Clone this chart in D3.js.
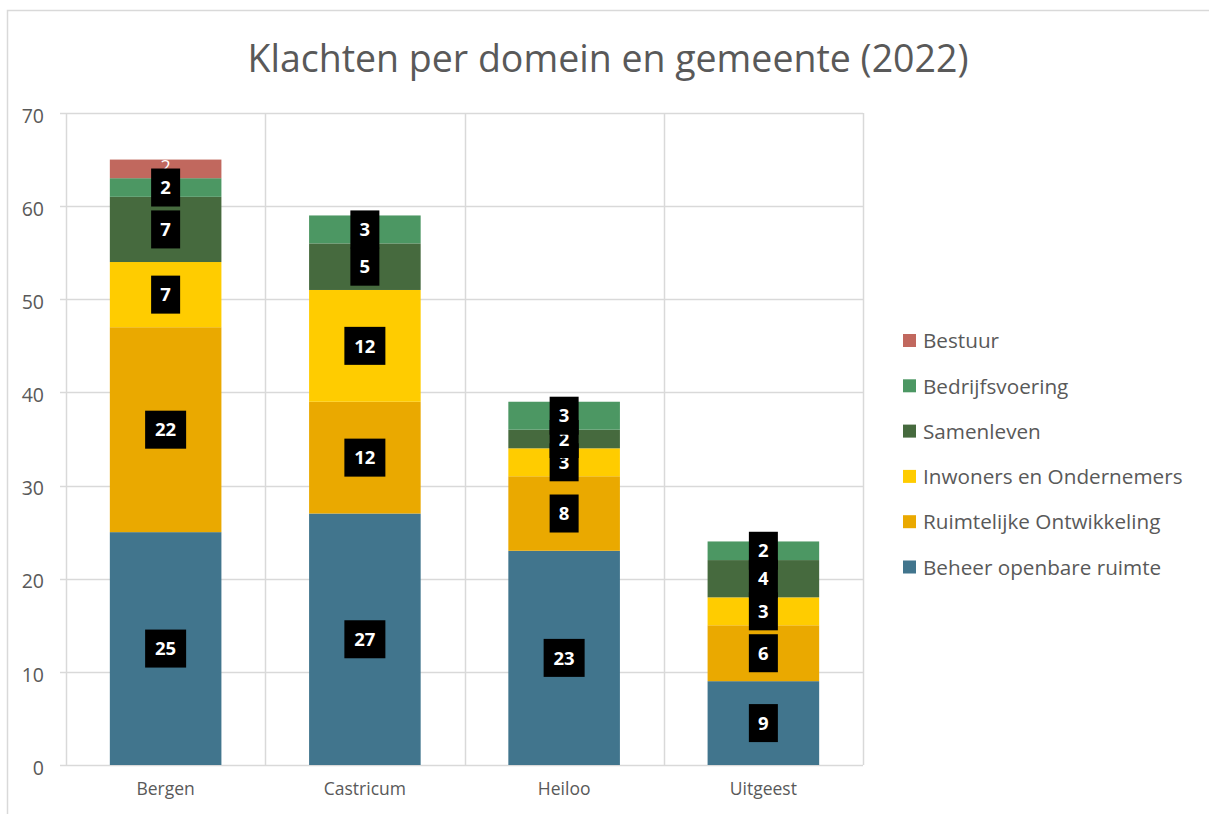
<!DOCTYPE html>
<html><head><meta charset="utf-8">
<script src="https://cdn.jsdelivr.net/npm/d3@7"></script>
<style>
html,body{margin:0;padding:0;background:#fff;}
svg{display:block;font-family:"Open Sans",sans-serif;}
</style></head>
<body><svg id="chart" width="1209" height="814"></svg>
<script>
const title = "Klachten per domein en gemeente (2022)";
const categories = ["Bergen","Castricum","Heiloo","Uitgeest"];
const seriesNames = ["Beheer openbare ruimte","Ruimtelijke Ontwikkeling","Inwoners en Ondernemers","Samenleven","Bedrijfsvoering","Bestuur"];
const beheer = [25,27,23,9];
const ruimtelijk = [22,12,8,6];
const inwoners = [7,12,3,3];
const samenleven = [7,5,2,4];
const bedrijfsvoering = [2,3,3,2];
const bestuur = [2,0,0,0];
const colors = ["#41758D","#EAA900","#FFCC00","#466A3E","#4C9763","#C1685E"];
const yTicks = [0,10,20,30,40,50,60,70];

const seriesValues = [beheer,ruimtelijk,inwoners,samenleven,bedrijfsvoering,bestuur];
const rows = categories.map((c,i)=>{const r={cat:c}; seriesNames.forEach((s,k)=>r[s]=seriesValues[k][i]); return r;});
const stacked = d3.stack().keys(seriesNames)(rows);

const svg = d3.select("#chart");
const pL=66, pR=863, pT=113, pB=765;
const x = d3.scaleBand().domain(categories).range([pL,pR]).padding(0);
const barW = x.bandwidth()*0.56;
const y = d3.scaleLinear().domain([0,70]).range([pB,pT]);
const color = d3.scaleOrdinal().domain(seriesNames).range(colors);

// chart border
svg.append("path").attr("d","M7.5,814 V10.5 H1209").attr("fill","none").attr("stroke","#D9D9D9").attr("stroke-width",1.5);

// title
svg.append("text").attr("x",608).attr("y",72).attr("text-anchor","middle")
  .attr("font-size",37.5).attr("fill","#595959").text(title);

// horizontal gridlines
svg.append("g").selectAll("line").data(yTicks).join("line")
  .attr("x1",pL-6).attr("x2",pR).attr("y1",d=>Math.round(y(d))+0.5).attr("y2",d=>Math.round(y(d))+0.5)
  .attr("stroke","#D9D9D9").attr("stroke-width",1.5);
// vertical lines
const vx = categories.map(c=>x(c)).concat([pR]);
svg.append("g").selectAll("line").data(vx).join("line")
  .attr("x1",d=>Math.round(d)+0.5).attr("x2",d=>Math.round(d)+0.5).attr("y1",pT).attr("y2",pB)
  .attr("stroke","#D9D9D9").attr("stroke-width",1.5);

// y axis labels
const yAxis = d3.axisLeft(y).tickValues(yTicks).tickSize(0).tickPadding(22);
const ya = svg.append("g").attr("transform",`translate(${pL},3)`).call(yAxis);
ya.select(".domain").remove();
ya.selectAll("text").attr("font-size",19.5).attr("fill","#595959").attr("font-family","Open Sans");

// x axis labels
const xAxis = d3.axisBottom(x).tickSize(0).tickPadding(18);
const xa = svg.append("g").attr("transform",`translate(0,${pB})`).call(xAxis);
xa.select(".domain").remove();
xa.selectAll("text").attr("font-size",17.5).attr("fill","#595959").attr("font-family","Open Sans");

// bars
const layers = svg.append("g").selectAll("g").data(stacked).join("g").attr("fill",d=>color(d.key));
layers.selectAll("rect").data(d=>d.map(p=>({p,key:d.key}))).join("rect")
  .attr("x",d=>x(d.p.data.cat)+(x.bandwidth()-barW)/2)
  .attr("width",barW)
  .attr("y",d=>y(d.p[1]))
  .attr("height",d=>y(d.p[0])-y(d.p[1]));

// labels (Bestuur label drawn first, partly behind the boxes as in the reference)
const lab = svg.append("g");
const order = stacked.slice(-1).concat(stacked.slice(0,-1));
order.forEach(layer=>{
  layer.forEach(p=>{
    const v = p[1]-p[0];
    if(!v) return;
    const cx = x(p.data.cat)+x.bandwidth()/2;
    const cy = y((p[0]+p[1])/2);
    const txt = String(v);
    const w = txt.length>1 ? 41 : 29;
    const plain = layer.key==="Bestuur";
    if(!plain){
      lab.append("rect").attr("x",cx-w/2).attr("y",cy-19).attr("width",w).attr("height",38).attr("fill","#000");
    }
    lab.append("text").attr("x",cx).attr("y",plain?cy-2:cy).attr("dy","0.36em").attr("text-anchor","middle")
      .attr("font-size",plain?18:18.5).attr("font-weight",plain?400:700).attr("fill","#fff").text(txt);
  });
});

// legend
const legendNames = seriesNames.slice().reverse();
const lg = svg.append("g").selectAll("g").data(legendNames).join("g")
  .attr("transform",(d,i)=>`translate(903,${341+i*45.3})`);
lg.append("rect").attr("x",0).attr("y",-7).attr("width",13).attr("height",13).attr("fill",d=>color(d));
lg.append("text").attr("x",20).attr("y",0).attr("dy","0.35em").attr("font-size",20.7).attr("fill","#595959").text(d=>d);
</script></body></html>
